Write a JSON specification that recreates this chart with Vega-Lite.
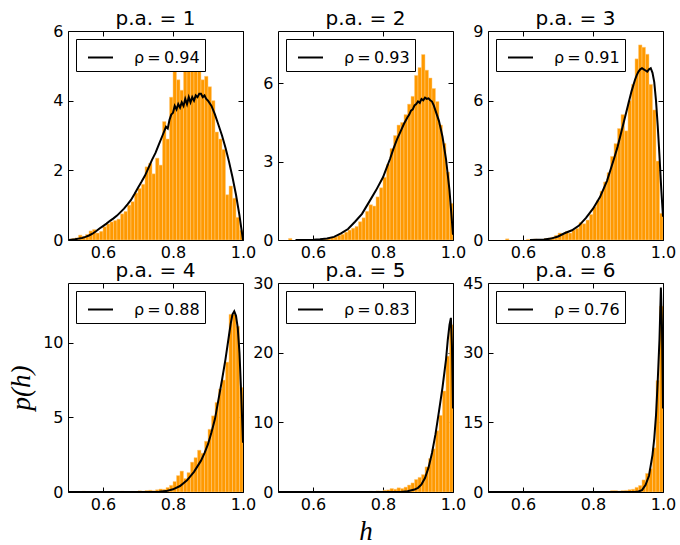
{
  "$schema": "https://vega.github.io/schema/vega-lite/v6.json",
  "padding": {"left": 7, "top": 8, "right": 0, "bottom": 0},
  "background": "white",
  "config": {
    "font": "DejaVu Sans",
    "view": {"stroke": "black", "strokeWidth": 1},
    "axis": {"domain": false, "grid": false, "tickSize": -5, "tickColor": "black", "tickWidth": 1, "labelColor": "black", "labelFontSize": 16, "labelFont": "DejaVu Sans", "labelFlush": false, "labelOverlap": false, "titleFont": "Liberation Serif", "titleFontStyle": "italic", "titleFontWeight": "normal", "titleFontSize": 27, "titleColor": "black"},
    "axisX": {"labelPadding": 9, "titlePadding": 6},
    "axisY": {"labelPadding": 10, "titlePadding": 7},
    "title": {"fontSize": 20, "fontWeight": "normal", "font": "DejaVu Sans", "offset": -6, "baseline": "alphabetic", "frame": "group", "color": "black"},
    "legend": {"orient": "top-left", "offset": 8, "padding": 5, "strokeColor": "black", "fillColor": "white", "symbolType": "stroke", "symbolSize": 625, "symbolStrokeWidth": 2, "symbolOffset": 6, "labelFontSize": 16, "labelFont": "DejaVu Sans", "labelColor": "black", "labelOffset": 20, "cornerRadius": 0}
  },
  "datasets": {
    "bars": [
      {"p":1,"h0":0.50,"h1":0.51,"v":0.02},{"p":1,"h0":0.51,"h1":0.52,"v":0.04},{"p":1,"h0":0.52,"h1":0.53,"v":0.06},{"p":1,"h0":0.53,"h1":0.54,"v":0.14},{"p":1,"h0":0.54,"h1":0.55,"v":0.1},{"p":1,"h0":0.55,"h1":0.56,"v":0.16},{"p":1,"h0":0.56,"h1":0.57,"v":0.26},{"p":1,"h0":0.57,"h1":0.58,"v":0.3},{"p":1,"h0":0.58,"h1":0.59,"v":0.2},{"p":1,"h0":0.59,"h1":0.60,"v":0.25},
      {"p":1,"h0":0.60,"h1":0.61,"v":0.38},{"p":1,"h0":0.61,"h1":0.62,"v":0.46},{"p":1,"h0":0.62,"h1":0.63,"v":0.52},{"p":1,"h0":0.63,"h1":0.64,"v":0.56},{"p":1,"h0":0.64,"h1":0.65,"v":0.6},{"p":1,"h0":0.65,"h1":0.66,"v":0.75},{"p":1,"h0":0.66,"h1":0.67,"v":0.82},{"p":1,"h0":0.67,"h1":0.68,"v":1.0},{"p":1,"h0":0.68,"h1":0.69,"v":1.1},{"p":1,"h0":0.69,"h1":0.70,"v":1.35},
      {"p":1,"h0":0.70,"h1":0.71,"v":1.48},{"p":1,"h0":0.71,"h1":0.72,"v":1.6},{"p":1,"h0":0.72,"h1":0.73,"v":2.1},{"p":1,"h0":0.73,"h1":0.74,"v":2.2},{"p":1,"h0":0.74,"h1":0.75,"v":1.9},{"p":1,"h0":0.75,"h1":0.76,"v":2.35},{"p":1,"h0":0.76,"h1":0.77,"v":2.15},{"p":1,"h0":0.77,"h1":0.78,"v":3.4},{"p":1,"h0":0.78,"h1":0.79,"v":2.9},{"p":1,"h0":0.79,"h1":0.80,"v":4.1},
      {"p":1,"h0":0.80,"h1":0.81,"v":5.0},{"p":1,"h0":0.81,"h1":0.82,"v":4.6},{"p":1,"h0":0.82,"h1":0.83,"v":4.3},{"p":1,"h0":0.83,"h1":0.84,"v":4.9},{"p":1,"h0":0.84,"h1":0.85,"v":5.3},{"p":1,"h0":0.85,"h1":0.86,"v":5.6},{"p":1,"h0":0.86,"h1":0.87,"v":5.0},{"p":1,"h0":0.87,"h1":0.88,"v":5.4},{"p":1,"h0":0.88,"h1":0.89,"v":4.6},{"p":1,"h0":0.89,"h1":0.90,"v":4.7},
      {"p":1,"h0":0.90,"h1":0.91,"v":4.4},{"p":1,"h0":0.91,"h1":0.92,"v":4.0},{"p":1,"h0":0.92,"h1":0.93,"v":3.1},{"p":1,"h0":0.93,"h1":0.94,"v":2.9},{"p":1,"h0":0.94,"h1":0.95,"v":2.6},{"p":1,"h0":0.95,"h1":0.96,"v":1.3},{"p":1,"h0":0.96,"h1":0.97,"v":1.55},{"p":1,"h0":0.97,"h1":0.98,"v":1.2},{"p":1,"h0":0.98,"h1":0.99,"v":0.65},{"p":1,"h0":0.99,"h1":1.00,"v":0.28},

      {"p":2,"h0":0.53,"h1":0.54,"v":0.06},{"p":2,"h0":0.60,"h1":0.61,"v":0.02},{"p":2,"h0":0.62,"h1":0.63,"v":0.03},{"p":2,"h0":0.63,"h1":0.64,"v":0.05},{"p":2,"h0":0.64,"h1":0.65,"v":0.06},{"p":2,"h0":0.65,"h1":0.66,"v":0.1},{"p":2,"h0":0.66,"h1":0.67,"v":0.12},{"p":2,"h0":0.67,"h1":0.68,"v":0.18},{"p":2,"h0":0.68,"h1":0.69,"v":0.22},{"p":2,"h0":0.69,"h1":0.70,"v":0.3},
      {"p":2,"h0":0.70,"h1":0.71,"v":0.38},{"p":2,"h0":0.71,"h1":0.72,"v":0.45},{"p":2,"h0":0.72,"h1":0.73,"v":0.52},{"p":2,"h0":0.73,"h1":0.74,"v":0.7},{"p":2,"h0":0.74,"h1":0.75,"v":0.85},{"p":2,"h0":0.75,"h1":0.76,"v":1.1},{"p":2,"h0":0.76,"h1":0.77,"v":1.35},{"p":2,"h0":0.77,"h1":0.78,"v":1.3},{"p":2,"h0":0.78,"h1":0.79,"v":1.65},{"p":2,"h0":0.79,"h1":0.80,"v":2.0},
      {"p":2,"h0":0.80,"h1":0.81,"v":2.4},{"p":2,"h0":0.81,"h1":0.82,"v":2.9},{"p":2,"h0":0.82,"h1":0.83,"v":3.5},{"p":2,"h0":0.83,"h1":0.84,"v":4.0},{"p":2,"h0":0.84,"h1":0.85,"v":4.4},{"p":2,"h0":0.85,"h1":0.86,"v":4.5},{"p":2,"h0":0.86,"h1":0.87,"v":4.8},{"p":2,"h0":0.87,"h1":0.88,"v":5.2},{"p":2,"h0":0.88,"h1":0.89,"v":5.5},{"p":2,"h0":0.89,"h1":0.90,"v":6.3},
      {"p":2,"h0":0.90,"h1":0.91,"v":6.6},{"p":2,"h0":0.91,"h1":0.92,"v":7.1},{"p":2,"h0":0.92,"h1":0.93,"v":6.5},{"p":2,"h0":0.93,"h1":0.94,"v":6.2},{"p":2,"h0":0.94,"h1":0.95,"v":5.8},{"p":2,"h0":0.95,"h1":0.96,"v":5.3},{"p":2,"h0":0.96,"h1":0.97,"v":4.4},{"p":2,"h0":0.97,"h1":0.98,"v":3.7},{"p":2,"h0":0.98,"h1":0.99,"v":2.6},{"p":2,"h0":0.99,"h1":1.00,"v":1.4},

      {"p":3,"h0":0.55,"h1":0.56,"v":0.05},{"p":3,"h0":0.61,"h1":0.62,"v":0.03},{"p":3,"h0":0.63,"h1":0.64,"v":0.04},{"p":3,"h0":0.66,"h1":0.67,"v":0.06},{"p":3,"h0":0.67,"h1":0.68,"v":0.08},{"p":3,"h0":0.68,"h1":0.69,"v":0.12},{"p":3,"h0":0.69,"h1":0.70,"v":0.2},
      {"p":3,"h0":0.70,"h1":0.71,"v":0.3},{"p":3,"h0":0.71,"h1":0.72,"v":0.25},{"p":3,"h0":0.72,"h1":0.73,"v":0.36},{"p":3,"h0":0.73,"h1":0.74,"v":0.3},{"p":3,"h0":0.74,"h1":0.75,"v":0.43},{"p":3,"h0":0.75,"h1":0.76,"v":0.5},{"p":3,"h0":0.76,"h1":0.77,"v":0.75},{"p":3,"h0":0.77,"h1":0.78,"v":0.7},{"p":3,"h0":0.78,"h1":0.79,"v":0.86},{"p":3,"h0":0.79,"h1":0.80,"v":1.1},
      {"p":3,"h0":0.80,"h1":0.81,"v":1.43},{"p":3,"h0":0.81,"h1":0.82,"v":1.7},{"p":3,"h0":0.82,"h1":0.83,"v":2.1},{"p":3,"h0":0.83,"h1":0.84,"v":2.5},{"p":3,"h0":0.84,"h1":0.85,"v":2.9},{"p":3,"h0":0.85,"h1":0.86,"v":3.6},{"p":3,"h0":0.86,"h1":0.87,"v":4.15},{"p":3,"h0":0.87,"h1":0.88,"v":4.8},{"p":3,"h0":0.88,"h1":0.89,"v":5.4},{"p":3,"h0":0.89,"h1":0.90,"v":4.7},
      {"p":3,"h0":0.90,"h1":0.91,"v":6.0},{"p":3,"h0":0.91,"h1":0.92,"v":6.7},{"p":3,"h0":0.92,"h1":0.93,"v":7.8},{"p":3,"h0":0.93,"h1":0.94,"v":8.4},{"p":3,"h0":0.94,"h1":0.95,"v":8.3},{"p":3,"h0":0.95,"h1":0.96,"v":8.0},{"p":3,"h0":0.96,"h1":0.97,"v":6.7},{"p":3,"h0":0.97,"h1":0.98,"v":5.6},{"p":3,"h0":0.98,"h1":0.99,"v":3.4},{"p":3,"h0":0.99,"h1":1.00,"v":1.15},

      {"p":4,"h0":0.50,"h1":0.51,"v":0.02},{"p":4,"h0":0.52,"h1":0.53,"v":0.03},{"p":4,"h0":0.54,"h1":0.55,"v":0.05},{"p":4,"h0":0.56,"h1":0.57,"v":0.02},{"p":4,"h0":0.58,"h1":0.59,"v":0.03},{"p":4,"h0":0.60,"h1":0.61,"v":0.02},{"p":4,"h0":0.62,"h1":0.63,"v":0.05},{"p":4,"h0":0.63,"h1":0.64,"v":0.02},{"p":4,"h0":0.65,"h1":0.66,"v":0.05},{"p":4,"h0":0.66,"h1":0.67,"v":0.03},{"p":4,"h0":0.67,"h1":0.68,"v":0.02},{"p":4,"h0":0.68,"h1":0.69,"v":0.04},{"p":4,"h0":0.69,"h1":0.70,"v":0.03},
      {"p":4,"h0":0.70,"h1":0.71,"v":0.08},{"p":4,"h0":0.71,"h1":0.72,"v":0.05},{"p":4,"h0":0.72,"h1":0.73,"v":0.1},{"p":4,"h0":0.73,"h1":0.74,"v":0.12},{"p":4,"h0":0.74,"h1":0.75,"v":0.08},{"p":4,"h0":0.75,"h1":0.76,"v":0.15},{"p":4,"h0":0.76,"h1":0.77,"v":0.2},{"p":4,"h0":0.77,"h1":0.78,"v":0.18},{"p":4,"h0":0.78,"h1":0.79,"v":0.3},{"p":4,"h0":0.79,"h1":0.80,"v":0.45},
      {"p":4,"h0":0.80,"h1":0.81,"v":0.7},{"p":4,"h0":0.81,"h1":0.82,"v":1.1},{"p":4,"h0":0.82,"h1":0.83,"v":1.4},{"p":4,"h0":0.83,"h1":0.84,"v":0.9},{"p":4,"h0":0.84,"h1":0.85,"v":1.3},{"p":4,"h0":0.85,"h1":0.86,"v":2.0},{"p":4,"h0":0.86,"h1":0.87,"v":2.3},{"p":4,"h0":0.87,"h1":0.88,"v":2.8},{"p":4,"h0":0.88,"h1":0.89,"v":2.6},{"p":4,"h0":0.89,"h1":0.90,"v":3.4},
      {"p":4,"h0":0.90,"h1":0.91,"v":4.2},{"p":4,"h0":0.91,"h1":0.92,"v":5.1},{"p":4,"h0":0.92,"h1":0.93,"v":6.0},{"p":4,"h0":0.93,"h1":0.94,"v":6.9},{"p":4,"h0":0.94,"h1":0.95,"v":7.5},{"p":4,"h0":0.95,"h1":0.96,"v":8.7},{"p":4,"h0":0.96,"h1":0.97,"v":11.9},{"p":4,"h0":0.97,"h1":0.98,"v":11.9},{"p":4,"h0":0.98,"h1":0.99,"v":11.1},{"p":4,"h0":0.99,"h1":1.00,"v":7.0},

      {"p":5,"h0":0.55,"h1":0.56,"v":0.05},{"p":5,"h0":0.62,"h1":0.63,"v":0.05},{"p":5,"h0":0.70,"h1":0.71,"v":0.05},{"p":5,"h0":0.76,"h1":0.77,"v":0.1},{"p":5,"h0":0.78,"h1":0.79,"v":0.15},{"p":5,"h0":0.79,"h1":0.80,"v":0.12},
      {"p":5,"h0":0.80,"h1":0.81,"v":0.25},{"p":5,"h0":0.81,"h1":0.82,"v":0.3},{"p":5,"h0":0.82,"h1":0.83,"v":0.5},{"p":5,"h0":0.83,"h1":0.84,"v":0.4},{"p":5,"h0":0.84,"h1":0.85,"v":0.6},{"p":5,"h0":0.85,"h1":0.86,"v":0.5},{"p":5,"h0":0.86,"h1":0.87,"v":0.7},{"p":5,"h0":0.87,"h1":0.88,"v":1.0},{"p":5,"h0":0.88,"h1":0.89,"v":1.3},{"p":5,"h0":0.89,"h1":0.90,"v":1.8},
      {"p":5,"h0":0.90,"h1":0.91,"v":2.1},{"p":5,"h0":0.91,"h1":0.92,"v":2.5},{"p":5,"h0":0.92,"h1":0.93,"v":3.6},{"p":5,"h0":0.93,"h1":0.94,"v":4.8},{"p":5,"h0":0.94,"h1":0.95,"v":6.2},{"p":5,"h0":0.95,"h1":0.96,"v":8.8},{"p":5,"h0":0.96,"h1":0.97,"v":11.0},{"p":5,"h0":0.97,"h1":0.98,"v":14.5},{"p":5,"h0":0.98,"h1":0.99,"v":19.5},{"p":5,"h0":0.99,"h1":1.00,"v":24.0},

      {"p":6,"h0":0.85,"h1":0.86,"v":0.3},{"p":6,"h0":0.86,"h1":0.87,"v":0.3},{"p":6,"h0":0.87,"h1":0.88,"v":0.2},{"p":6,"h0":0.88,"h1":0.89,"v":0.3},{"p":6,"h0":0.89,"h1":0.90,"v":0.35},
      {"p":6,"h0":0.90,"h1":0.91,"v":0.5},{"p":6,"h0":0.91,"h1":0.92,"v":0.6},{"p":6,"h0":0.92,"h1":0.93,"v":1.0},{"p":6,"h0":0.93,"h1":0.94,"v":1.4},{"p":6,"h0":0.94,"h1":0.95,"v":2.6},{"p":6,"h0":0.95,"h1":0.96,"v":4.0},{"p":6,"h0":0.96,"h1":0.97,"v":5.0},{"p":6,"h0":0.97,"h1":0.98,"v":9.5},{"p":6,"h0":0.98,"h1":0.99,"v":24.0},{"p":6,"h0":0.99,"h1":1.00,"v":40.0}
    ],
    "lines": [
      {"p":1,"h":0.50,"v":0.0},{"p":1,"h":0.51,"v":0.01},{"p":1,"h":0.52,"v":0.02},{"p":1,"h":0.53,"v":0.04},{"p":1,"h":0.54,"v":0.06},{"p":1,"h":0.55,"v":0.09},{"p":1,"h":0.56,"v":0.13},{"p":1,"h":0.57,"v":0.18},{"p":1,"h":0.58,"v":0.25},{"p":1,"h":0.59,"v":0.33},
      {"p":1,"h":0.60,"v":0.4},{"p":1,"h":0.61,"v":0.47},{"p":1,"h":0.62,"v":0.55},{"p":1,"h":0.63,"v":0.62},{"p":1,"h":0.64,"v":0.7},{"p":1,"h":0.65,"v":0.8},{"p":1,"h":0.66,"v":0.9},{"p":1,"h":0.67,"v":1.02},{"p":1,"h":0.68,"v":1.15},{"p":1,"h":0.69,"v":1.32},
      {"p":1,"h":0.70,"v":1.5},{"p":1,"h":0.71,"v":1.67},{"p":1,"h":0.72,"v":1.85},{"p":1,"h":0.73,"v":2.07},{"p":1,"h":0.74,"v":2.3},{"p":1,"h":0.75,"v":2.5},{"p":1,"h":0.76,"v":2.75},{"p":1,"h":0.77,"v":3.0},{"p":1,"h":0.78,"v":3.25},{"p":1,"h":0.785,"v":3.2},{"p":1,"h":0.79,"v":3.45},{"p":1,"h":0.795,"v":3.6},
      {"p":1,"h":0.80,"v":3.65},{"p":1,"h":0.805,"v":3.85},{"p":1,"h":0.81,"v":3.75},{"p":1,"h":0.815,"v":3.9},{"p":1,"h":0.82,"v":3.8},{"p":1,"h":0.825,"v":3.95},{"p":1,"h":0.83,"v":3.85},{"p":1,"h":0.835,"v":4.05},{"p":1,"h":0.84,"v":3.9},{"p":1,"h":0.845,"v":4.1},{"p":1,"h":0.85,"v":3.95},{"p":1,"h":0.855,"v":4.1},{"p":1,"h":0.86,"v":4.0},{"p":1,"h":0.865,"v":4.15},{"p":1,"h":0.87,"v":4.1},{"p":1,"h":0.875,"v":4.2},{"p":1,"h":0.88,"v":4.2},{"p":1,"h":0.885,"v":4.1},{"p":1,"h":0.89,"v":4.15},{"p":1,"h":0.895,"v":4.05},
      {"p":1,"h":0.90,"v":4.0},{"p":1,"h":0.91,"v":3.85},{"p":1,"h":0.92,"v":3.6},{"p":1,"h":0.93,"v":3.3},{"p":1,"h":0.94,"v":3.0},{"p":1,"h":0.95,"v":2.65},{"p":1,"h":0.96,"v":2.25},{"p":1,"h":0.97,"v":1.8},{"p":1,"h":0.98,"v":1.3},{"p":1,"h":0.99,"v":0.7},{"p":1,"h":1.00,"v":0.0},

      {"p":2,"h":0.55,"v":0.0},{"p":2,"h":0.60,"v":0.01},{"p":2,"h":0.62,"v":0.03},{"p":2,"h":0.64,"v":0.06},{"p":2,"h":0.66,"v":0.12},{"p":2,"h":0.68,"v":0.25},{"p":2,"h":0.70,"v":0.42},{"p":2,"h":0.72,"v":0.7},{"p":2,"h":0.74,"v":1.0},{"p":2,"h":0.76,"v":1.45},{"p":2,"h":0.78,"v":1.9},
      {"p":2,"h":0.80,"v":2.4},{"p":2,"h":0.81,"v":2.75},{"p":2,"h":0.82,"v":3.1},{"p":2,"h":0.83,"v":3.5},{"p":2,"h":0.84,"v":3.85},{"p":2,"h":0.85,"v":4.15},{"p":2,"h":0.86,"v":4.45},{"p":2,"h":0.87,"v":4.7},{"p":2,"h":0.875,"v":4.8},{"p":2,"h":0.88,"v":4.95},{"p":2,"h":0.885,"v":5.0},{"p":2,"h":0.89,"v":5.15},{"p":2,"h":0.895,"v":5.2},
      {"p":2,"h":0.90,"v":5.3},{"p":2,"h":0.905,"v":5.25},{"p":2,"h":0.91,"v":5.4},{"p":2,"h":0.915,"v":5.35},{"p":2,"h":0.92,"v":5.45},{"p":2,"h":0.925,"v":5.4},{"p":2,"h":0.93,"v":5.42},{"p":2,"h":0.935,"v":5.35},{"p":2,"h":0.94,"v":5.3},{"p":2,"h":0.945,"v":5.15},{"p":2,"h":0.95,"v":4.95},{"p":2,"h":0.96,"v":4.55},{"p":2,"h":0.97,"v":3.95},{"p":2,"h":0.98,"v":3.1},{"p":2,"h":0.99,"v":1.9},{"p":2,"h":1.00,"v":0.2},

      {"p":3,"h":0.62,"v":0.0},{"p":3,"h":0.66,"v":0.02},{"p":3,"h":0.68,"v":0.06},{"p":3,"h":0.70,"v":0.15},{"p":3,"h":0.72,"v":0.3},{"p":3,"h":0.74,"v":0.42},{"p":3,"h":0.76,"v":0.62},{"p":3,"h":0.78,"v":0.95},
      {"p":3,"h":0.80,"v":1.35},{"p":3,"h":0.82,"v":1.85},{"p":3,"h":0.84,"v":2.55},{"p":3,"h":0.86,"v":3.5},{"p":3,"h":0.87,"v":4.0},{"p":3,"h":0.88,"v":4.6},{"p":3,"h":0.89,"v":5.2},
      {"p":3,"h":0.90,"v":5.8},{"p":3,"h":0.91,"v":6.4},{"p":3,"h":0.92,"v":6.9},{"p":3,"h":0.925,"v":7.1},{"p":3,"h":0.93,"v":7.25},{"p":3,"h":0.935,"v":7.35},{"p":3,"h":0.94,"v":7.4},{"p":3,"h":0.945,"v":7.35},{"p":3,"h":0.95,"v":7.3},{"p":3,"h":0.955,"v":7.25},{"p":3,"h":0.96,"v":7.35},{"p":3,"h":0.965,"v":7.4},{"p":3,"h":0.97,"v":7.2},{"p":3,"h":0.975,"v":6.8},{"p":3,"h":0.98,"v":6.0},{"p":3,"h":0.985,"v":4.9},{"p":3,"h":0.99,"v":3.6},{"p":3,"h":0.995,"v":2.2},{"p":3,"h":1.00,"v":1.0},

      {"p":4,"h":0.50,"v":0.0},{"p":4,"h":0.74,"v":0.0},{"p":4,"h":0.76,"v":0.02},{"p":4,"h":0.78,"v":0.06},{"p":4,"h":0.80,"v":0.18},{"p":4,"h":0.82,"v":0.4},{"p":4,"h":0.84,"v":0.78},{"p":4,"h":0.86,"v":1.35},{"p":4,"h":0.88,"v":2.1},{"p":4,"h":0.89,"v":2.6},
      {"p":4,"h":0.90,"v":3.2},{"p":4,"h":0.91,"v":4.0},{"p":4,"h":0.92,"v":4.9},{"p":4,"h":0.93,"v":6.2},{"p":4,"h":0.94,"v":7.5},{"p":4,"h":0.95,"v":8.9},{"p":4,"h":0.96,"v":10.5},{"p":4,"h":0.965,"v":11.3},{"p":4,"h":0.97,"v":11.9},{"p":4,"h":0.975,"v":12.1},{"p":4,"h":0.98,"v":11.8},{"p":4,"h":0.985,"v":11.0},{"p":4,"h":0.99,"v":9.3},{"p":4,"h":0.995,"v":6.5},{"p":4,"h":1.00,"v":3.3},

      {"p":5,"h":0.50,"v":0.0},{"p":5,"h":0.85,"v":0.0},{"p":5,"h":0.87,"v":0.1},{"p":5,"h":0.89,"v":0.35},{"p":5,"h":0.90,"v":0.6},{"p":5,"h":0.91,"v":1.1},{"p":5,"h":0.92,"v":2.0},{"p":5,"h":0.93,"v":3.5},{"p":5,"h":0.94,"v":5.6},{"p":5,"h":0.95,"v":8.3},{"p":5,"h":0.96,"v":11.6},{"p":5,"h":0.97,"v":15.0},{"p":5,"h":0.98,"v":19.0},{"p":5,"h":0.985,"v":21.8},{"p":5,"h":0.99,"v":24.0},{"p":5,"h":0.994,"v":25.0},{"p":5,"h":0.997,"v":21.0},{"p":5,"h":1.00,"v":12.0},

      {"p":6,"h":0.50,"v":0.0},{"p":6,"h":0.92,"v":0.0},{"p":6,"h":0.93,"v":0.1},{"p":6,"h":0.94,"v":0.4},{"p":6,"h":0.95,"v":1.5},{"p":6,"h":0.96,"v":3.5},{"p":6,"h":0.97,"v":8.0},{"p":6,"h":0.975,"v":11.5},{"p":6,"h":0.98,"v":16.5},{"p":6,"h":0.985,"v":24.0},{"p":6,"h":0.99,"v":33.0},{"p":6,"h":0.994,"v":44.0},{"p":6,"h":0.997,"v":36.0},{"p":6,"h":1.00,"v":18.0}
    ]
  },
  "columns": 3,
  "spacing": {"row": 43, "column": 35},
  "bounds": "flush",
  "resolve": {"scale": {"x": "independent", "y": "independent", "color": "independent"}},
  "concat": [
    {
      "title": {"text": "p.a. = 1", "offset": -6}, "width": 175, "height": 209,
      "layer": [
        {"data": {"name": "bars"}, "transform": [{"filter": "datum.p == 1"}], "mark": {"type": "rect", "fill": "#FF9900", "stroke": "#FFCC80", "strokeWidth": 0.5, "clip": true},
         "encoding": {"x": {"field": "h0", "type": "quantitative", "scale": {"domain": [0.5, 1.0], "nice": false, "zero": false}, "axis": {"orient": "bottom", "values": [0.6, 0.8, 1.0], "format": ".1f", "title": null}},
                      "x2": {"field": "h1"},
                      "y": {"field": "v", "type": "quantitative", "scale": {"domain": [0, 6], "nice": false}, "axis": {"orient": "left", "values": [0, 2, 4, 6], "title": null}},
                      "y2": {"datum": 0}}},
        {"data": {"name": "lines"}, "transform": [{"filter": "datum.p == 1"}], "mark": {"type": "line", "strokeWidth": 2, "clip": true},
         "encoding": {"x": {"field": "h", "type": "quantitative", "scale": {"domain": [0.5, 1.0], "nice": false, "zero": false}, "axis": {"orient": "top", "values": [0.6, 0.8, 1.0], "labels": false, "title": null}},
                      "y": {"field": "v", "type": "quantitative", "scale": {"domain": [0, 6], "nice": false}, "axis": {"orient": "right", "values": [0, 2, 4, 6], "labels": false, "title": null}},
                      "color": {"datum": "ρ\u2009=\u20090.94", "scale": {"range": ["black"]}, "legend": {"title": null}}}}
      ],
      "resolve": {"axis": {"x": "independent", "y": "independent"}}
    },
    {
      "title": {"text": "p.a. = 2", "offset": 2}, "width": 175, "height": 209,
      "layer": [
        {"data": {"name": "bars"}, "transform": [{"filter": "datum.p == 2"}], "mark": {"type": "rect", "fill": "#FF9900", "stroke": "#FFCC80", "strokeWidth": 0.5, "clip": true},
         "encoding": {"x": {"field": "h0", "type": "quantitative", "scale": {"domain": [0.5, 1.0], "nice": false, "zero": false}, "axis": {"orient": "bottom", "values": [0.6, 0.8, 1.0], "format": ".1f", "title": null}},
                      "x2": {"field": "h1"},
                      "y": {"field": "v", "type": "quantitative", "scale": {"domain": [0, 8], "nice": false}, "axis": {"orient": "left", "values": [0, 3, 6], "title": null}},
                      "y2": {"datum": 0}}},
        {"data": {"name": "lines"}, "transform": [{"filter": "datum.p == 2"}], "mark": {"type": "line", "strokeWidth": 2, "clip": true},
         "encoding": {"x": {"field": "h", "type": "quantitative", "scale": {"domain": [0.5, 1.0], "nice": false, "zero": false}, "axis": {"orient": "top", "values": [0.6, 0.8, 1.0], "labels": false, "title": null}},
                      "y": {"field": "v", "type": "quantitative", "scale": {"domain": [0, 8], "nice": false}, "axis": {"orient": "right", "values": [0, 3, 6], "labels": false, "title": null}},
                      "color": {"datum": "ρ\u2009=\u20090.93", "scale": {"range": ["black"]}, "legend": {"title": null}}}}
      ],
      "resolve": {"axis": {"x": "independent", "y": "independent"}}
    },
    {
      "title": {"text": "p.a. = 3", "offset": -6}, "width": 175, "height": 209,
      "layer": [
        {"data": {"name": "bars"}, "transform": [{"filter": "datum.p == 3"}], "mark": {"type": "rect", "fill": "#FF9900", "stroke": "#FFCC80", "strokeWidth": 0.5, "clip": true},
         "encoding": {"x": {"field": "h0", "type": "quantitative", "scale": {"domain": [0.5, 1.0], "nice": false, "zero": false}, "axis": {"orient": "bottom", "values": [0.6, 0.8, 1.0], "format": ".1f", "title": null}},
                      "x2": {"field": "h1"},
                      "y": {"field": "v", "type": "quantitative", "scale": {"domain": [0, 9], "nice": false}, "axis": {"orient": "left", "values": [0, 3, 6, 9], "title": null}},
                      "y2": {"datum": 0}}},
        {"data": {"name": "lines"}, "transform": [{"filter": "datum.p == 3"}], "mark": {"type": "line", "strokeWidth": 2, "clip": true},
         "encoding": {"x": {"field": "h", "type": "quantitative", "scale": {"domain": [0.5, 1.0], "nice": false, "zero": false}, "axis": {"orient": "top", "values": [0.6, 0.8, 1.0], "labels": false, "title": null}},
                      "y": {"field": "v", "type": "quantitative", "scale": {"domain": [0, 9], "nice": false}, "axis": {"orient": "right", "values": [0, 3, 6, 9], "labels": false, "title": null}},
                      "color": {"datum": "ρ\u2009=\u20090.91", "scale": {"range": ["black"]}, "legend": {"title": null}}}}
      ],
      "resolve": {"axis": {"x": "independent", "y": "independent"}}
    },
    {
      "title": {"text": "p.a. = 4", "offset": 2}, "width": 175, "height": 209,
      "layer": [
        {"data": {"name": "bars"}, "transform": [{"filter": "datum.p == 4"}], "mark": {"type": "rect", "fill": "#FF9900", "stroke": "#FFCC80", "strokeWidth": 0.5, "clip": true},
         "encoding": {"x": {"field": "h0", "type": "quantitative", "scale": {"domain": [0.5, 1.0], "nice": false, "zero": false}, "axis": {"orient": "bottom", "values": [0.6, 0.8, 1.0], "format": ".1f", "title": null}},
                      "x2": {"field": "h1"},
                      "y": {"field": "v", "type": "quantitative", "scale": {"domain": [0, 14], "nice": false}, "axis": {"orient": "left", "values": [0, 5, 10], "title": "p(h)"}},
                      "y2": {"datum": 0}}},
        {"data": {"name": "lines"}, "transform": [{"filter": "datum.p == 4"}], "mark": {"type": "line", "strokeWidth": 2, "clip": true},
         "encoding": {"x": {"field": "h", "type": "quantitative", "scale": {"domain": [0.5, 1.0], "nice": false, "zero": false}, "axis": {"orient": "top", "values": [0.6, 0.8, 1.0], "labels": false, "title": null}},
                      "y": {"field": "v", "type": "quantitative", "scale": {"domain": [0, 14], "nice": false}, "axis": {"orient": "right", "values": [0, 5, 10], "labels": false, "title": null}},
                      "color": {"datum": "ρ\u2009=\u20090.88", "scale": {"range": ["black"]}, "legend": {"title": null}}}}
      ],
      "resolve": {"axis": {"x": "independent", "y": "independent"}}
    },
    {
      "title": {"text": "p.a. = 5", "offset": -6}, "width": 175, "height": 209,
      "layer": [
        {"data": {"name": "bars"}, "transform": [{"filter": "datum.p == 5"}], "mark": {"type": "rect", "fill": "#FF9900", "stroke": "#FFCC80", "strokeWidth": 0.5, "clip": true},
         "encoding": {"x": {"field": "h0", "type": "quantitative", "scale": {"domain": [0.5, 1.0], "nice": false, "zero": false}, "axis": {"orient": "bottom", "values": [0.6, 0.8, 1.0], "format": ".1f", "title": "h"}},
                      "x2": {"field": "h1"},
                      "y": {"field": "v", "type": "quantitative", "scale": {"domain": [0, 30], "nice": false}, "axis": {"orient": "left", "values": [0, 10, 20, 30], "title": null}},
                      "y2": {"datum": 0}}},
        {"data": {"name": "lines"}, "transform": [{"filter": "datum.p == 5"}], "mark": {"type": "line", "strokeWidth": 2, "clip": true},
         "encoding": {"x": {"field": "h", "type": "quantitative", "scale": {"domain": [0.5, 1.0], "nice": false, "zero": false}, "axis": {"orient": "top", "values": [0.6, 0.8, 1.0], "labels": false, "title": null}},
                      "y": {"field": "v", "type": "quantitative", "scale": {"domain": [0, 30], "nice": false}, "axis": {"orient": "right", "values": [0, 10, 20, 30], "labels": false, "title": null}},
                      "color": {"datum": "ρ\u2009=\u20090.83", "scale": {"range": ["black"]}, "legend": {"title": null}}}}
      ],
      "resolve": {"axis": {"x": "independent", "y": "independent"}}
    },
    {
      "title": {"text": "p.a. = 6", "offset": -6}, "width": 175, "height": 209,
      "layer": [
        {"data": {"name": "bars"}, "transform": [{"filter": "datum.p == 6"}], "mark": {"type": "rect", "fill": "#FF9900", "stroke": "#FFCC80", "strokeWidth": 0.5, "clip": true},
         "encoding": {"x": {"field": "h0", "type": "quantitative", "scale": {"domain": [0.5, 1.0], "nice": false, "zero": false}, "axis": {"orient": "bottom", "values": [0.6, 0.8, 1.0], "format": ".1f", "title": null}},
                      "x2": {"field": "h1"},
                      "y": {"field": "v", "type": "quantitative", "scale": {"domain": [0, 45], "nice": false}, "axis": {"orient": "left", "values": [0, 15, 30, 45], "title": null}},
                      "y2": {"datum": 0}}},
        {"data": {"name": "lines"}, "transform": [{"filter": "datum.p == 6"}], "mark": {"type": "line", "strokeWidth": 2, "clip": true},
         "encoding": {"x": {"field": "h", "type": "quantitative", "scale": {"domain": [0.5, 1.0], "nice": false, "zero": false}, "axis": {"orient": "top", "values": [0.6, 0.8, 1.0], "labels": false, "title": null}},
                      "y": {"field": "v", "type": "quantitative", "scale": {"domain": [0, 45], "nice": false}, "axis": {"orient": "right", "values": [0, 15, 30, 45], "labels": false, "title": null}},
                      "color": {"datum": "ρ\u2009=\u20090.76", "scale": {"range": ["black"]}, "legend": {"title": null}}}}
      ],
      "resolve": {"axis": {"x": "independent", "y": "independent"}}
    }
  ]
}
